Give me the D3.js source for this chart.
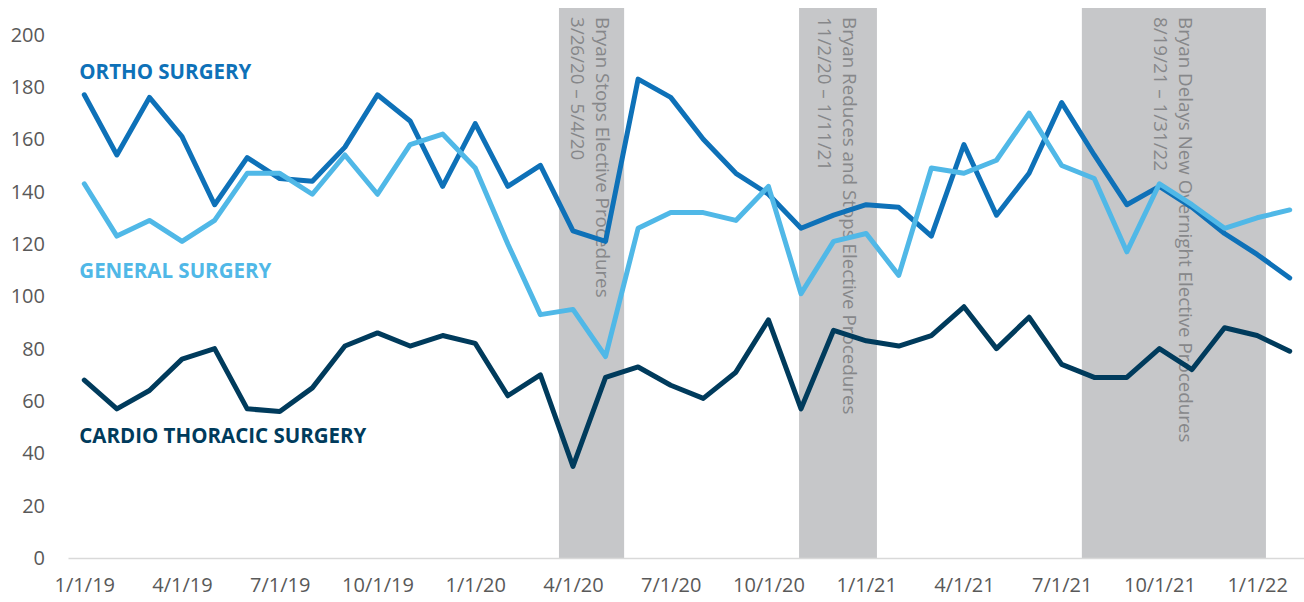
<!DOCTYPE html>
<html>
<head>
<meta charset="utf-8">
<script src="https://cdn.jsdelivr.net/npm/d3@7"></script>
<style>
  html, body { margin: 0; padding: 0; background: #fff; }
  svg { display: block; }
</style>
</head>
<body>
<svg id="chart" width="1304" height="602"></svg>
<script>
// ---- Data ----
const months = [
  "1/1/19","2/1/19","3/1/19","4/1/19","5/1/19","6/1/19","7/1/19","8/1/19","9/1/19","10/1/19","11/1/19","12/1/19",
  "1/1/20","2/1/20","3/1/20","4/1/20","5/1/20","6/1/20","7/1/20","8/1/20","9/1/20","10/1/20","11/1/20","12/1/20",
  "1/1/21","2/1/21","3/1/21","4/1/21","5/1/21","6/1/21","7/1/21","8/1/21","9/1/21","10/1/21","11/1/21","12/1/21",
  "1/1/22","2/1/22"
];
const tickLabels = ["1/1/19","4/1/19","7/1/19","10/1/19","1/1/20","4/1/20","7/1/20","10/1/20","1/1/21","4/1/21","7/1/21","10/1/21","1/1/22"];
const yTicks = [0, 20, 40, 60, 80, 100, 120, 140, 160, 180, 200];

const orthoSurgery = [177,154,176,161,135,153,145,144,157,177,167,142,
                      166,142,150,125,121,183,176,160,147,139,126,131,
                      135,134,123,158,131,147,174,154,135,142,134,124,116,107];
const generalSurgery = [143,123,129,121,129,147,147,139,154,139,158,162,
                        149,120,93,95,77,126,132,132,129,142,101,121,
                        124,108,149,147,152,170,150,145,117,143,135,126,130,133];
const cardioThoracic = [68,57,64,76,80,57,56,65,81,86,81,85,
                        82,62,70,35,69,73,66,61,71,91,57,87,
                        83,81,85,96,80,92,74,69,69,80,72,88,85,79];

const seriesNames = ["ORTHO SURGERY", "GENERAL SURGERY", "CARDIO THORACIC SURGERY"];
const seriesColors = ["#0e71b8", "#50b8e7", "#003b5c"];
const seriesValues = [orthoSurgery, generalSurgery, cardioThoracic];
const seriesLabelValues = [183, 107, 44]; // label placement in data units (baseline)

// Shaded periods (in fractional month positions from 1/1/19)
const bandStart = [14.57, 21.94, 30.62];
const bandEnd   = [16.57, 24.33, 36.27];
const bandTitle = ["Bryan Stops Elective Procedures",
                   "Bryan Reduces and Stops Elective Procedures",
                   "Bryan Delays New Overnight Elective Procedures"];
const bandDates = ["3/26/20 \u2013 5/4/20", "11/2/20 \u2013 1/11/21", "8/19/21 \u2013 1/31/22"];

// ---- Layout ----
const svg = d3.select("#chart");
const plotLeft = 68, plotRight = 1306, plotBottom = 558, plotTopY = 34.6, bandTop = 8;

const x = d3.scaleLinear().domain([-0.5, months.length - 0.5]).range([plotLeft, plotRight]);
const y = d3.scaleLinear().domain([0, 200]).range([plotBottom, plotTopY]);

const font = "'Open Sans', 'DejaVu Sans', sans-serif";

// Bands
const bands = bandStart.map((s, i) => ({ s, e: bandEnd[i], t: bandTitle[i], d: bandDates[i] }));
const bg = svg.append("g");
bg.selectAll("rect").data(bands).join("rect")
  .attr("x", d => x(d.s))
  .attr("width", d => x(d.e) - x(d.s))
  .attr("y", bandTop)
  .attr("height", plotBottom - bandTop)
  .attr("fill", "#c6c7c9");

bands.forEach(d => {
  const cx = (x(d.s) + x(d.e)) / 2;
  [[d.t, cx + 11.5], [d.d, cx - 13.5]].forEach(([txt, px]) => {
    bg.append("text")
      .attr("transform", `translate(${px},17) rotate(90)`)
      .attr("dy", "0.35em")
      .attr("font-family", font)
      .attr("font-size", 18.8)
      .attr("font-weight", 500)
      .attr("fill", "#86878a")
      .text(txt);
  });
});

// X axis
const xAxis = d3.axisBottom(x)
  .tickValues(tickLabels.map(t => months.indexOf(t)))
  .tickFormat(i => months[i])
  .tickSize(0)
  .tickPadding(20);
const gx = svg.append("g").attr("transform", `translate(0,${plotBottom})`).call(xAxis);
gx.select(".domain").attr("stroke", "#d9d9d9").attr("stroke-width", 1.5);
gx.selectAll("text").attr("font-family", font).attr("font-size", 20).attr("fill", "#595959");

// Y axis
const yAxis = d3.axisLeft(y).tickValues(yTicks).tickSize(0).tickPadding(23);
const gy = svg.append("g").attr("transform", `translate(${plotLeft},0)`).call(yAxis);
gy.select(".domain").remove();
gy.selectAll("text").attr("font-family", font).attr("font-size", 20).attr("fill", "#595959");

// Lines
const line = d3.line().x((d, i) => x(i)).y(d => y(d));
svg.append("g").selectAll("path").data(seriesValues).join("path")
  .attr("d", line)
  .attr("fill", "none")
  .attr("stroke", (d, i) => seriesColors[i])
  .attr("stroke-width", 5)
  .attr("stroke-linejoin", "round")
  .attr("stroke-linecap", "round");

// Series labels
svg.append("g").selectAll("text").data(seriesNames).join("text")
  .attr("x", x(0) - 5)
  .attr("y", (d, i) => y(seriesLabelValues[i]))
  .attr("font-family", font)
  .attr("font-weight", "bold")
  .attr("font-size", 20.5)
  .attr("fill", (d, i) => seriesColors[i])
  .text(d => d);
</script>
</body>
</html>
